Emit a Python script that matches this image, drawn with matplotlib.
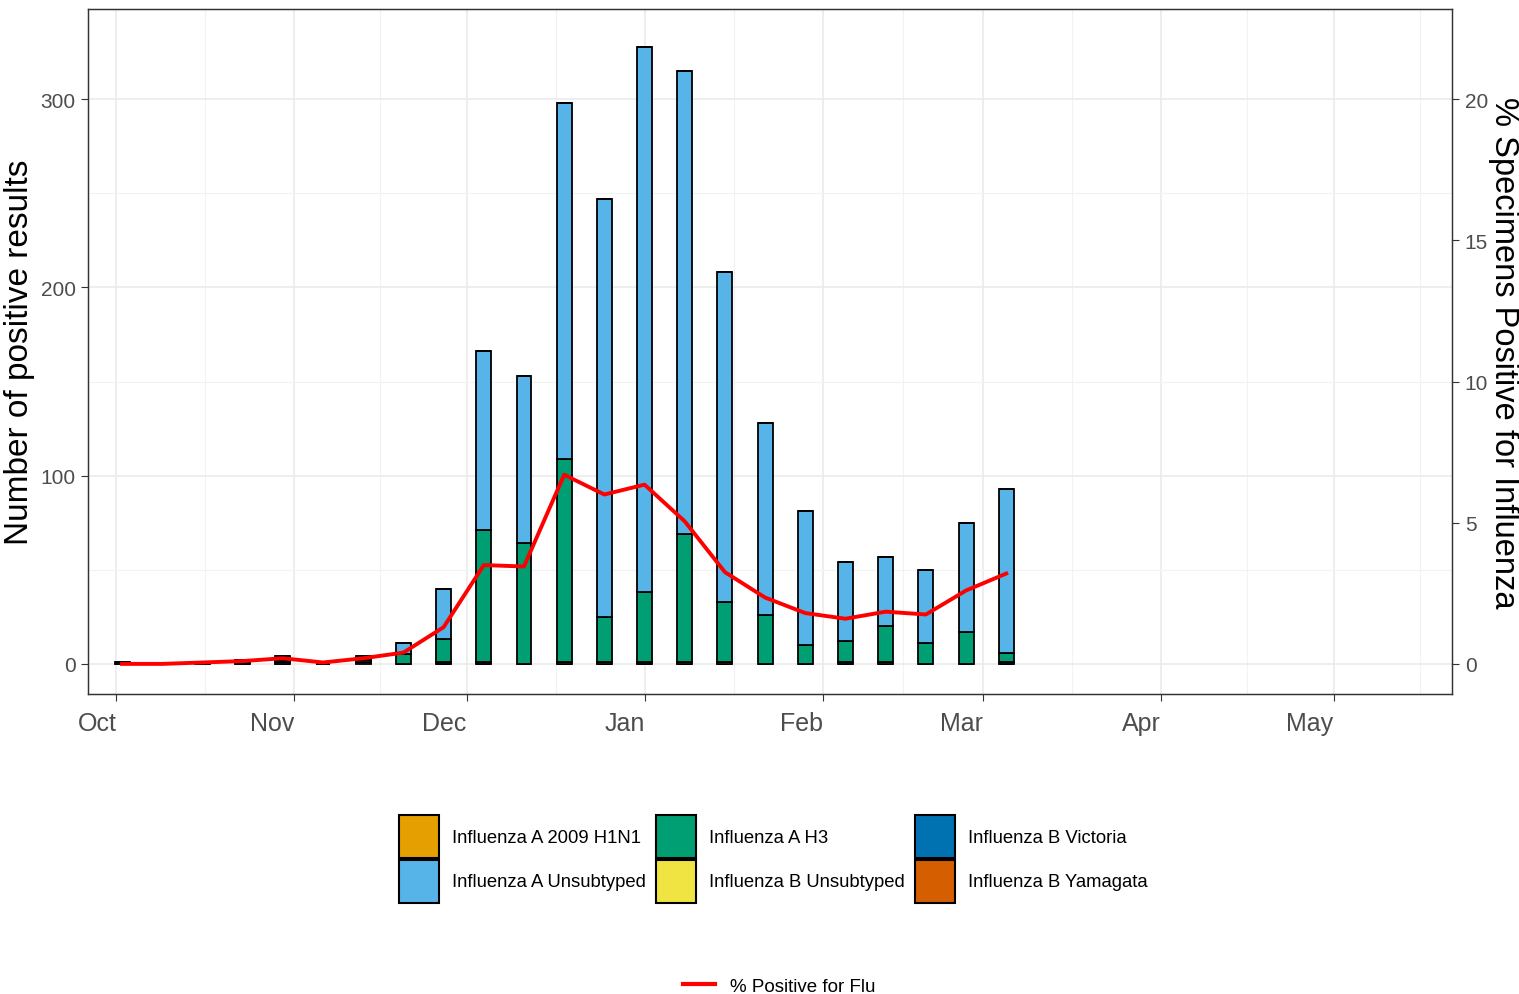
from matplotlib import pyplot as plt
from matplotlib.patches import Patch
from matplotlib.lines import Line2D
import numpy as np
import pandas as pd

plt.rcParams['font.family'] = ['Liberation Sans', 'DejaVu Sans']

weeks = ["2017-10-02", "2017-10-09", "2017-10-16", "2017-10-23", "2017-10-30",
         "2017-11-06", "2017-11-13", "2017-11-20", "2017-11-27", "2017-12-04",
         "2017-12-11", "2017-12-18", "2017-12-25", "2018-01-01", "2018-01-08",
         "2018-01-15", "2018-01-22", "2018-01-29", "2018-02-05", "2018-02-12",
         "2018-02-19", "2018-02-26", "2018-03-05"]

# counts per week, stacked bottom -> top
b_yamagata = [0, 0, 0, 0, 0, 0, 1, 0, 0, 0, 0, 0, 0, 0, 0, 0, 0, 0, 0, 0, 0, 0, 0]
b_victoria = [1, 0, 0, 1, 1, 0, 0, 0, 1, 1, 0, 0, 0, 1, 0, 0, 0, 0, 1, 0, 0, 0, 1]
b_unsub    = [0, 0, 0, 0, 0, 0, 1, 0, 0, 0, 0, 1, 1, 0, 1, 1, 0, 0, 0, 1, 0, 0, 0]
a_h3       = [0, 0, 0, 0, 1, 0, 0, 5, 12, 70, 64, 108, 24, 37, 68, 32, 26, 10, 11, 19, 11, 17, 5]
a_unsub    = [0, 0, 1, 1, 2, 0, 2, 6, 27, 95, 89, 189, 222, 290, 246, 175, 102, 71, 42, 37, 39, 58, 87]
a_h1n1     = [0] * 23

pct_pos = [0.0, 0.0, 0.05, 0.1, 0.2, 0.05, 0.2, 0.4, 1.3, 3.5, 3.45, 6.7, 6.0, 6.35,
           5.05, 3.25, 2.35, 1.8, 1.6, 1.85, 1.75, 2.6, 3.2]

series = [
    ("Influenza B Yamagata", b_yamagata, "#D55E00"),
    ("Influenza B Victoria", b_victoria, "#0072B2"),
    ("Influenza B Unsubtyped", b_unsub, "#F0E442"),
    ("Influenza A H3", a_h3, "#009E73"),
    ("Influenza A Unsubtyped", a_unsub, "#56B4E9"),
    ("Influenza A 2009 H1N1", a_h1n1, "#E69F00"),
]
colors = {name: c for name, _, c in series}

dates = pd.to_datetime(weeks)

fig = plt.figure(figsize=(15.19, 9.95), dpi=100)
ax = fig.add_axes([0.058, 0.3015, 0.898, 0.6885])

bottom = np.zeros(len(weeks))
for name, vals, col in series:
    vals = np.array(vals, dtype=float)
    ax.bar(dates, vals, width=2.6, bottom=bottom, color=col, edgecolor="black",
           linewidth=1.3, zorder=3)
    bottom += vals

ax.set_ylim(-16, 348)
ax.set_yticks([0, 100, 200, 300])
ax.set_yticks([50, 150, 250], minor=True)
ax.set_xlim(pd.Timestamp("2017-09-26 02:00"), pd.Timestamp("2018-05-21 16:00"))
months = pd.to_datetime(["2017-10-01", "2017-11-01", "2017-12-01", "2018-01-01",
                         "2018-02-01", "2018-03-01", "2018-04-01", "2018-05-01"])
mids = list(months[:-1] + (months[1:] - months[:-1]) / 2) + [pd.Timestamp("2018-05-16")]
ax.set_xticks(months)
ax.set_xticklabels(["Oct", "Nov", "Dec", "Jan", "Feb", "Mar", "Apr", "May"],
                   ha="right", fontsize=18, color="#4D4D4D")
ax.set_xticks(mids, minor=True)
ax.grid(True, which="major", color="#EBEBEB", linewidth=1.2, zorder=0)
ax.grid(True, which="minor", color="#F2F2F2", linewidth=0.8, zorder=0)
ax.set_axisbelow(True)
ax.tick_params(axis="y", labelsize=15, labelcolor="#4D4D4D", color="#333333",
               length=5, pad=4)
ax.tick_params(axis="x", color="#333333", length=5, pad=7)
ax.tick_params(which="minor", length=0)
ax.set_ylabel("Number of positive results", fontsize=24, labelpad=4)
for s in ax.spines.values():
    s.set_color("#333333")
    s.set_linewidth(0.9)

ax2 = ax.twinx()
ax2.plot(dates, pct_pos, color="#FF0000", linewidth=2.8, zorder=5)
ax2.set_ylim(-16 / 15, 348 / 15)
ax2.set_yticks([0, 5, 10, 15, 20])
ax2.tick_params(axis="y", labelsize=15, labelcolor="#4D4D4D", color="#333333",
                length=5, pad=4)
ax2.set_ylabel("% Specimens Positive for Influenza", fontsize=23.5, rotation=270,
               labelpad=22)
for s in ax2.spines.values():
    s.set_color("#333333")
    s.set_linewidth(0.9)

order = ["Influenza A 2009 H1N1", "Influenza A Unsubtyped", "Influenza A H3",
         "Influenza B Unsubtyped", "Influenza B Victoria", "Influenza B Yamagata"]
handles = [Patch(facecolor=colors[n], edgecolor="black", linewidth=1.5) for n in order]
fig.legend(handles, order, loc="center", bbox_to_anchor=(0.509, 0.136), ncol=3,
           frameon=False, fontsize=13.3, handlelength=2.16, handleheight=3.2,
           handletextpad=0.7, columnspacing=0.55, labelspacing=0.1, borderpad=0)

fig.legend([Line2D([], [], color="#FF0000", linewidth=3)], ["% Positive for Flu"],
           loc="center", bbox_to_anchor=(0.513, 0.008), frameon=False,
           fontsize=13.5, handlelength=1.7, handletextpad=0.8, borderpad=0)

fig.savefig("out.png", dpi=100)
